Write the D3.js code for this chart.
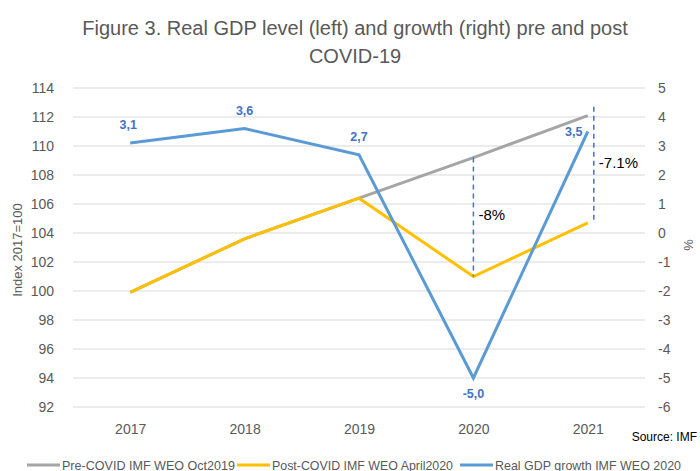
<!DOCTYPE html>
<html>
<head>
<meta charset="utf-8">
<script src="https://cdn.jsdelivr.net/npm/d3@7"></script>
<style>
  html, body { margin: 0; padding: 0; background: #fff; }
  svg { display: block; font-family: "Liberation Sans", "DejaVu Sans", sans-serif; }
</style>
</head>
<body>
<svg id="chart" width="700" height="471"></svg>
<script>
// Years on the category axis
const years = ["2017", "2018", "2019", "2020", "2021"];
// Real GDP level, index 2017 = 100 (left axis)
const preCovid = [99.9, 103.6, 106.4, 109.2, 112.1];
const postCovid = [99.9, 103.6, 106.4, 101.0, 104.7];
// Real GDP growth, % (right axis)
const growth = [3.1, 3.6, 2.7, -5.0, 3.5];
const growthLabels = ["3,1", "3,6", "2,7", "-5,0", "3,5"];
// Tick values
const leftTicks = [92, 94, 96, 98, 100, 102, 104, 106, 108, 110, 112, 114];
const rightTicks = [-6, -5, -4, -3, -2, -1, 0, 1, 2, 3, 4, 5];
// Gap annotations between the two level paths
const gapYears = ["2020", "2021"];
const gapTop = [109.2, 112.7];
const gapBottom = [101.0, 104.7];
const gapLabels = ["-8%", "-7.1%"];

const seriesNames = ["Pre-COVID IMF WEO Oct2019", "Post-COVID IMF WEO April2020", "Real GDP growth IMF WEO 2020"];
const colors = ["#A5A5A5", "#FFC000", "#5B9BD5"];

const svg = d3.select("#chart");
const plotLeft = 73, plotRight = 645, plotTop = 88, plotBottom = 407;

const x = d3.scalePoint().domain(years).range([plotLeft, plotRight]).padding(0.5);
const yL = d3.scaleLinear().domain([92, 114]).range([plotBottom, plotTop]);
const yR = d3.scaleLinear().domain([-6, 5]).range([plotBottom, plotTop]);
const plain = d => String(d);

// Title
const title = svg.append("text").attr("text-anchor", "middle")
  .attr("fill", "#595959").attr("font-size", 20);
title.append("tspan").attr("x", 355).attr("y", 35).text("Figure 3. Real GDP level (left) and growth (right) pre and post");
title.append("tspan").attr("x", 355).attr("y", 63).text("COVID-19");

// Gridlines
svg.append("g").selectAll("line").data(leftTicks).join("line")
  .attr("x1", plotLeft).attr("x2", plotRight)
  .attr("y1", d => yL(d)).attr("y2", d => yL(d))
  .attr("stroke", "#D9D9D9").attr("stroke-width", 1);

// Left axis
const axL = svg.append("g").attr("transform", `translate(${plotLeft},0)`)
  .call(d3.axisLeft(yL).tickValues(leftTicks).tickFormat(plain).tickSize(0).tickPadding(19));
axL.select(".domain").remove();
axL.selectAll("text").attr("fill", "#595959").attr("font-size", 14)
  .attr("font-family", "Liberation Sans, sans-serif");

// Right axis
const axR = svg.append("g").attr("transform", `translate(${plotRight},0)`)
  .call(d3.axisRight(yR).tickValues(rightTicks).tickFormat(plain).tickSize(0).tickPadding(13));
axR.select(".domain").remove();
axR.selectAll("text").attr("fill", "#595959").attr("font-size", 14)
  .attr("font-family", "Liberation Sans, sans-serif");

// Bottom axis
const axB = svg.append("g").attr("transform", `translate(0,${plotBottom})`)
  .call(d3.axisBottom(x).tickSize(0).tickPadding(17));
axB.select(".domain").remove();
axB.selectAll("text").attr("fill", "#595959").attr("font-size", 14)
  .attr("font-family", "Liberation Sans, sans-serif");

// Axis titles
svg.append("text").attr("transform", "translate(22,250) rotate(-90)")
  .attr("text-anchor", "middle").attr("fill", "#595959").attr("font-size", 13)
  .text("Index 2017=100");
svg.append("text").attr("transform", "translate(693,245) rotate(-90)")
  .attr("text-anchor", "middle").attr("fill", "#595959").attr("font-size", 13)
  .text("%");

// Lines
const lineL = d3.line().x((d, i) => x(years[i])).y(d => yL(d));
const lineR = d3.line().x((d, i) => x(years[i])).y(d => yR(d));

svg.append("path").datum(preCovid).attr("d", lineL)
  .attr("fill", "none").attr("stroke", colors[0]).attr("stroke-width", 3);
svg.append("path").datum(postCovid).attr("d", lineL)
  .attr("fill", "none").attr("stroke", colors[1]).attr("stroke-width", 3);
svg.append("path").datum(growth).attr("d", lineR)
  .attr("fill", "none").attr("stroke", colors[2]).attr("stroke-width", 3);

// Growth data labels
const labelG = svg.append("g").attr("font-weight", "bold").attr("font-size", 12.5)
  .attr("fill", "#4472C4").attr("text-anchor", "middle");
growth.forEach((v, i) => {
  let dx = 0, dy = -14;
  if (v < 0) dy = 20;
  if (i === 0) dx = -2;
  if (i === years.length - 1) { dx = -14; dy = 4; }
  labelG.append("text")
    .attr("x", x(years[i]) + dx).attr("y", yR(v) + dy)
    .text(growthLabels[i]);
});

// Gap annotations
gapYears.forEach((yr, i) => {
  const gx = x(yr) + (i === 1 ? 6 : 0);
  svg.append("line")
    .attr("x1", gx).attr("x2", gx)
    .attr("y1", yL(gapTop[i])).attr("y2", yL(gapBottom[i]))
    .attr("stroke", "#4472C4").attr("stroke-width", 1.5)
    .attr("stroke-dasharray", "5,4");
  svg.append("text")
    .attr("x", gx + 5).attr("y", (yL(gapTop[i]) + yL(gapBottom[i])) / 2 + 3)
    .attr("font-size", 15).attr("fill", "#000").text(gapLabels[i]);
});

// Source note
svg.append("text").attr("x", 697).attr("y", 441).attr("text-anchor", "end")
  .attr("font-size", 12).attr("fill", "#000").text("Source: IMF");

// Legend
const legendX = [27, 237, 460];
const legendW = [173, 181, 186];
const legend = svg.append("g");
seriesNames.forEach((name, i) => {
  legend.append("line")
    .attr("x1", legendX[i]).attr("x2", legendX[i] + 33)
    .attr("y1", 465).attr("y2", 465)
    .attr("stroke", colors[i]).attr("stroke-width", 3);
  legend.append("text").attr("x", legendX[i] + 35).attr("y", 469.5)
    .attr("font-size", 13).attr("fill", "#595959")
    .attr("textLength", legendW[i]).attr("lengthAdjust", "spacingAndGlyphs")
    .text(name);
});
</script>
</body>
</html>
